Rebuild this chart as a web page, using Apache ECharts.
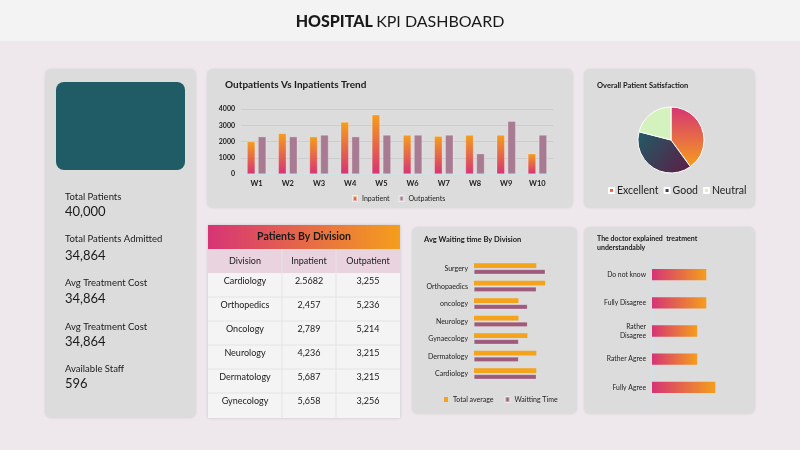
<!DOCTYPE html>
<html><head><meta charset="utf-8">
<script src="https://cdn.jsdelivr.net/npm/echarts@6/dist/echarts.min.js"></script>
<style>html,body{margin:0;padding:0;background:#eee7eb}#c{width:800px;height:450px}</style>
</head><body><div id="c"></div><script>
// ---------- data ----------
const weeks = ['W1','W2','W3','W4','W5','W6','W7','W8','W9','W10'];
const inpatients = [2000,2500,2300,3200,3650,2400,2330,2400,2400,1250];
const outpatients = [2300,2300,2400,2300,2400,2400,2400,1250,3250,2400];
const trendMax = 4000;
const trendInterval = 1000;

const satisfactionLabels = ['Excellent','Good','Neutral'];
const satisfactionValues = [40,39,21];

const tableTitle = 'Patients By Division';
const tableColumns = ['Division','Inpatient','Outpatient'];
const tableDivisions = ['Cardiology','Orthopedics','Oncology','Neurology','Dermatology','Gynecology'];
const tableInpatient = ['2.5682','2,457','2,789','4,236','5,687','5,658'];
const tableOutpatient = ['3,255','5,236','5,214','3,215','3,215','3,256'];

const waitDivisions = ['Surgery','Orthopaedics','oncology','Neurology','Gynaecology','Dermatology','Cardiology'];
const waitTotalAverage = [35,40,25,25,30,35,35];
const waitTime = [40,35,30,30,25,25,35];

const doctorAnswers = ['Do not know','Fully Disagree','Rather\nDisagree','Rather Agree','Fully Agree'];
const doctorValues = [6,6,5,5,7];

const kpiLabels = ['Total Patients','Total Patients Admitted','Avg Treatment Cost','Avg Treatment Cost','Available Staff'];
const kpiValues = ['40,000','34,864','34,864','34,864','596'];

// ---------- styles ----------
const FONT = 'Lato, "Noto Sans", sans-serif';
const PINK = '#d63475', ORANGE = '#f59e1c';
const panelFill = '#dcdcdc';
const LG = echarts.graphic.LinearGradient;

const chart = echarts.init(document.getElementById('c'), null, {renderer:'canvas'});

const graphics = [];
graphics.push({type:'rect', shape:{x:0,y:0,width:800,height:41}, style:{fill:'#f3f3f3'}, z:-10});
function panel(x,y,w,h,fill){
  graphics.push({type:'rect', shape:{x:x,y:y,width:w,height:h,r:6}, style:{fill:fill||panelFill, shadowBlur:3, shadowColor:'rgba(0,0,0,0.08)'}, z:-5});
}
panel(45,69,151,349);
panel(207,69,366,139);
panel(584,69,171,139);
panel(412,227,165,187);
panel(584,227,171,187);

function text(x,y,str,size,weight,opts){
  const o = Object.assign({align:'left', v:'middle', color:'#1a1a1a'}, opts||{});
  graphics.push({type:'text', x:x, y:y, z:10, style:{text:str, font:(weight||'normal')+' '+size+'px '+FONT, fill:o.color, textAlign:o.align, textVerticalAlign:o.v}});
}

// title
graphics.push({type:'text', x:400, y:22, z:10, style:{
  text:'{b|HOSPITAL} {n|KPI DASHBOARD}', textAlign:'center', textVerticalAlign:'middle',
  rich:{b:{font:'900 16px '+FONT, fill:'#1a1a1a'}, n:{font:'normal 16px '+FONT, fill:'#1a1a1a'}}
}});

// left panel
graphics.push({type:'rect', shape:{x:56,y:82,width:129,height:88,r:8}, style:{fill:'#1f5c66'}, z:1});
const kpiLabelY = [197,239,283,327,369];
const kpiValueY = [212,256,299,342,384];
kpiLabels.forEach((l,i)=>{
  text(65,kpiLabelY[i],l,9.5,'normal');
  text(65,kpiValueY[i],kpiValues[i],13,'normal');
});

// chart titles
text(225,85,'Outpatients Vs Inpatients Trend',10,'bold');
text(597,86,'Overall Patient Satisfaction',7.5,'bold');
text(424,240,'Avg Waiting time By Division',7.5,'bold');
text(597,239,'The doctor explained  treatment',7,'bold');
text(597,248,'understandably',7,'bold');

// table
const tX=208, tY=225, tW=192;
const colX=[208,282,336,400];
graphics.push({type:'rect', shape:{x:tX,y:tY,width:tW,height:193}, style:{fill:'#f4f4f4', shadowBlur:3, shadowColor:'rgba(0,0,0,0.15)'}, z:0});
graphics.push({type:'rect', shape:{x:tX,y:tY,width:tW,height:24}, style:{fill:new LG(0,0,1,0,[{offset:0,color:PINK},{offset:1,color:ORANGE}])}, z:1});
text(tX+tW/2, tY+12, tableTitle, 10.5, 'bold', {align:'center'});
graphics.push({type:'rect', shape:{x:tX,y:tY+24,width:tW,height:24}, style:{fill:'#e9d3df'}, z:1});
tableColumns.forEach((c,i)=>{
  text((colX[i]+colX[i+1])/2, tY+36, c, 9, 'normal', {align:'center'});
});
[1,2].forEach(i=>{
  graphics.push({type:'line', shape:{x1:colX[i],y1:tY+24,x2:colX[i],y2:tY+193}, style:{stroke:'#e6e2e4', lineWidth:1}, z:2});
});
const tableCols = [tableDivisions, tableInpatient, tableOutpatient];
tableDivisions.forEach((d,r)=>{
  const rowTop = tY+48+r*24;
  if (r>0) graphics.push({type:'line', shape:{x1:tX,y1:rowTop,x2:tX+tW,y2:rowTop}, style:{stroke:'#e4e4e4', lineWidth:1}, z:2});
  tableCols.forEach((col,i)=>{
    text((colX[i]+colX[i+1])/2, rowTop+8, col[r], 9, 'normal', {align:'center'});
  });
});

const axisLbl = {color:'#222', fontFamily:FONT};

const option = {
  animation:false,
  backgroundColor:'#eee7eb',
  textStyle:{fontFamily:FONT},
  graphic: graphics,
  grid:[
    {left:241, right:247, top:109, bottom:276},
    {left:474, width:89, top:260, height:122.5},
    {left:652, width:90.5, top:260.6, height:140.8}
  ],
  xAxis:[
    {gridIndex:0, type:'category', data:weeks, axisTick:{show:false},
     axisLine:{lineStyle:{color:'#cfe5ea', width:1.5}},
     axisLabel:Object.assign({fontSize:7.5, fontWeight:'bold', margin:6}, axisLbl)},
    {gridIndex:1, type:'value', min:0, max:50, show:false},
    {gridIndex:2, type:'value', min:0, max:10, show:false}
  ],
  yAxis:[
    {gridIndex:0, type:'value', min:0, max:trendMax, interval:trendInterval,
     axisLine:{show:false}, axisTick:{show:false},
     splitLine:{lineStyle:{color:'#c9c9c9', width:0.8}},
     axisLabel:Object.assign({fontSize:7, fontWeight:'bold', margin:6, formatter:v=>String(v)}, axisLbl)},
    {gridIndex:1, type:'category', data:waitDivisions, inverse:true,
     axisTick:{show:false}, axisLine:{lineStyle:{color:'#cfe3ea', width:1}},
     axisLabel:Object.assign({fontSize:7, margin:6}, axisLbl)},
    {gridIndex:2, type:'category', data:doctorAnswers, inverse:true,
     axisTick:{show:false}, axisLine:{lineStyle:{color:'#cfe3ea', width:1}},
     axisLabel:Object.assign({fontSize:6.8, margin:6, lineHeight:9, align:'right'}, axisLbl)}
  ],
  legend:[
    {data:['Inpatient','Outpatients'], left:347, top:190, icon:'rect', itemWidth:4, itemHeight:5, itemGap:9,
     textStyle:{fontSize:7, color:'#222', fontFamily:FONT}},
    {data:satisfactionLabels, left:603, top:180, icon:'rect', itemWidth:5, itemHeight:5, itemGap:5,
     textStyle:{fontSize:10.5, color:'#222', fontFamily:FONT, padding:[0,0,0,-2]}},
    {data:['Total average','Waitting Time'], left:439, top:391, icon:'rect', itemWidth:4, itemHeight:5, itemGap:11,
     textStyle:{fontSize:7, color:'#222', fontFamily:FONT}}
  ],
  series:[
    {name:'Inpatient', type:'bar', xAxisIndex:0, yAxisIndex:0, data:inpatients, barWidth:8, barGap:'37%',
     itemStyle:{color:new LG(0,0,0,1,[{offset:0,color:ORANGE},{offset:1,color:PINK}]), borderColor:'rgba(255,255,255,0.5)', borderWidth:0.5}},
    {name:'Outpatients', type:'bar', xAxisIndex:0, yAxisIndex:0, data:outpatients, barWidth:8,
     itemStyle:{color:'#a97b92', borderColor:'rgba(255,255,255,0.5)', borderWidth:0.5}},
    {name:'Total average', type:'bar', xAxisIndex:1, yAxisIndex:1, data:waitTotalAverage, barWidth:4.7, barGap:'30%',
     itemStyle:{color:'#f5a31a'}},
    {name:'Waitting Time', type:'bar', xAxisIndex:1, yAxisIndex:1, data:waitTime, barWidth:4.7,
     itemStyle:{color:'#9e5a7a', borderColor:'rgba(255,255,255,0.4)', borderWidth:0.5}},
    {name:'Doctor', type:'bar', xAxisIndex:2, yAxisIndex:2, data:doctorValues, barWidth:11.3,
     itemStyle:{color:new LG(0,0,1,0,[{offset:0,color:PINK},{offset:1,color:ORANGE}])}},
    {name:'Satisfaction', type:'pie', center:[671,140], radius:33, startAngle:90, clockwise:true,
     label:{show:false}, labelLine:{show:false},
     itemStyle:{borderColor:'#ffffff', borderWidth:1},
     data:satisfactionLabels.map((n,i)=>({name:n, value:satisfactionValues[i], itemStyle:{color:[
       new LG(0,0,0,1,[{offset:0,color:PINK},{offset:1,color:ORANGE}]),
       new LG(0,0,1,1,[{offset:0,color:'#1f5c66'},{offset:1,color:'#5e1c45'}]),
       '#d3f2bd'][i]}}))}
  ]
};
chart.setOption(option);
</script></body></html>
